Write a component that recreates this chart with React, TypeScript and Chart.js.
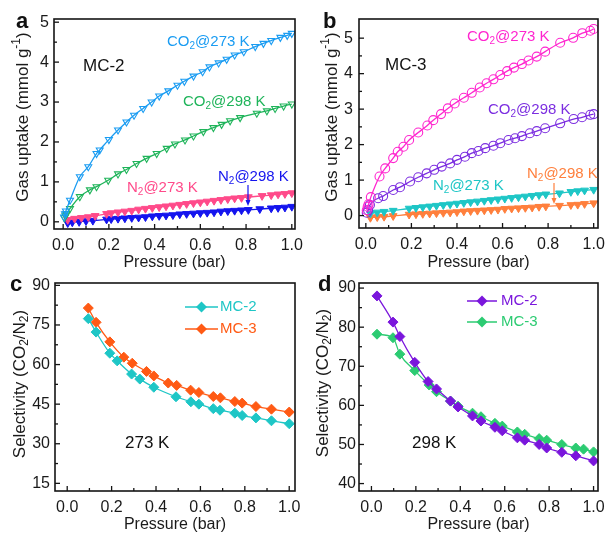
import React, { useEffect, useRef } from "react";
import { Chart, registerables } from "chart.js";
Chart.register(...registerables);

const FONT = "'Liberation Sans', Arial, Helvetica, sans-serif";

// ---------- tick labels ----------
const pressureTicks = [0, 0.2, 0.4, 0.6, 0.8, 1.0];
const uptakeTicksA = [0, 1, 2, 3, 4, 5];
const uptakeTicksB = [0, 1, 2, 3, 4, 5];
const selTicksC = [15, 30, 45, 60, 75, 90];
const selTicksD = [40, 50, 60, 70, 80, 90];

// ---------- panel a (MC-2 isotherms) ----------
const aCO2_273: number[][] = [[0.004,0.12],[0.008,0.2],[0.012,0.27],[0.03,0.54],[0.073,1.13],[0.11,1.38],[0.146,1.71],[0.16,1.8],[0.2,2.06],[0.24,2.3],[0.277,2.5],[0.31,2.67],[0.35,2.84],[0.387,3.0],[0.42,3.15],[0.46,3.28],[0.5,3.42],[0.53,3.52],[0.57,3.65],[0.61,3.76],[0.64,3.88],[0.68,3.98],[0.715,4.07],[0.75,4.18],[0.79,4.26],[0.84,4.39],[0.876,4.47],[0.91,4.54],[0.95,4.62],[0.98,4.67],[1.0,4.72]];
const aCO2_298: number[][] = [[0.005,0.1],[0.01,0.15],[0.015,0.2],[0.03,0.33],[0.073,0.63],[0.117,0.8],[0.146,0.88],[0.197,1.04],[0.24,1.2],[0.277,1.31],[0.321,1.46],[0.365,1.59],[0.409,1.71],[0.453,1.84],[0.489,1.95],[0.533,2.05],[0.57,2.15],[0.613,2.26],[0.657,2.36],[0.693,2.44],[0.73,2.53],[0.774,2.61],[0.847,2.72],[0.891,2.78],[0.927,2.84],[0.964,2.9],[1.0,2.95]];
const aN2_273: number[][] = [[0.02,0.05],[0.05,0.08],[0.08,0.1],[0.11,0.12],[0.14,0.15],[0.19,0.2],[0.21,0.22],[0.24,0.24],[0.27,0.26],[0.3,0.28],[0.33,0.31],[0.36,0.33],[0.39,0.35],[0.42,0.37],[0.45,0.39],[0.48,0.41],[0.51,0.43],[0.54,0.45],[0.57,0.47],[0.6,0.49],[0.63,0.51],[0.66,0.53],[0.69,0.55],[0.72,0.57],[0.75,0.59],[0.78,0.6],[0.81,0.62],[0.87,0.65],[0.91,0.67],[0.94,0.69],[0.97,0.7],[1.0,0.72]];
const aN2_298: number[][] = [[0.02,-0.03],[0.04,-0.01],[0.07,0.0],[0.1,0.02],[0.13,0.03],[0.19,0.06],[0.21,0.07],[0.24,0.08],[0.27,0.09],[0.3,0.1],[0.33,0.11],[0.36,0.12],[0.39,0.14],[0.42,0.15],[0.45,0.16],[0.48,0.17],[0.51,0.19],[0.54,0.2],[0.57,0.21],[0.6,0.22],[0.63,0.23],[0.66,0.24],[0.69,0.26],[0.72,0.27],[0.75,0.28],[0.78,0.29],[0.81,0.3],[0.86,0.32],[0.91,0.34],[0.94,0.35],[0.97,0.36],[1.0,0.38]];

// ---------- panel b (MC-3 isotherms) ----------
const bCO2_273: number[][] = [[0.004,0.15],[0.008,0.25],[0.012,0.32],[0.022,0.52],[0.06,1.1],[0.085,1.33],[0.12,1.62],[0.14,1.8],[0.165,1.94],[0.19,2.13],[0.23,2.34],[0.27,2.54],[0.296,2.69],[0.33,2.86],[0.36,3.02],[0.39,3.16],[0.43,3.32],[0.465,3.46],[0.5,3.61],[0.53,3.73],[0.56,3.84],[0.59,3.96],[0.62,4.07],[0.65,4.17],[0.685,4.27],[0.714,4.37],[0.75,4.48],[0.787,4.62],[0.853,4.87],[0.91,5.01],[0.95,5.14],[0.985,5.21],[1.0,5.26]];
const bCO2_298: number[][] = [[0.004,0.08],[0.01,0.15],[0.018,0.3],[0.054,0.49],[0.076,0.55],[0.12,0.72],[0.15,0.8],[0.194,0.96],[0.23,1.08],[0.267,1.19],[0.3,1.29],[0.333,1.38],[0.37,1.47],[0.4,1.57],[0.435,1.66],[0.465,1.76],[0.494,1.82],[0.524,1.9],[0.56,1.97],[0.59,2.04],[0.626,2.13],[0.655,2.18],[0.685,2.24],[0.72,2.32],[0.75,2.38],[0.787,2.46],[0.853,2.6],[0.912,2.72],[0.949,2.77],[0.985,2.84],[1.0,2.86]];
const bN2_273: number[][] = [[0.02,0.06],[0.05,0.09],[0.08,0.11],[0.12,0.14],[0.19,0.2],[0.22,0.22],[0.25,0.24],[0.28,0.26],[0.31,0.28],[0.34,0.3],[0.37,0.32],[0.4,0.34],[0.43,0.36],[0.46,0.38],[0.49,0.4],[0.52,0.42],[0.55,0.44],[0.58,0.46],[0.61,0.48],[0.64,0.5],[0.67,0.52],[0.7,0.54],[0.73,0.56],[0.76,0.58],[0.79,0.6],[0.85,0.63],[0.9,0.67],[0.93,0.69],[0.96,0.71],[1.0,0.73]];
const bN2_298: number[][] = [[0.02,-0.06],[0.05,-0.04],[0.08,-0.03],[0.12,-0.01],[0.19,0.03],[0.22,0.04],[0.25,0.05],[0.28,0.06],[0.31,0.07],[0.34,0.08],[0.37,0.09],[0.4,0.1],[0.43,0.12],[0.46,0.13],[0.49,0.14],[0.52,0.15],[0.55,0.16],[0.58,0.17],[0.61,0.19],[0.64,0.2],[0.67,0.21],[0.7,0.22],[0.73,0.23],[0.76,0.25],[0.79,0.26],[0.85,0.28],[0.9,0.3],[0.93,0.31],[0.96,0.33],[1.0,0.35]];

// ---------- panel c (selectivity 273 K) ----------
const cMC2: number[][] = [[0.095,77.4],[0.13,72.3],[0.192,64.3],[0.225,61.4],[0.29,56.4],[0.327,54.5],[0.39,51.4],[0.49,47.8],[0.557,45.9],[0.593,45.0],[0.658,43.3],[0.688,42.7],[0.755,41.6],[0.788,40.7],[0.85,39.8],[0.92,38.7],[1.0,37.6]];
const cMC3: number[][] = [[0.095,81.4],[0.13,76.0],[0.192,68.6],[0.255,62.8],[0.293,60.5],[0.357,57.4],[0.39,55.7],[0.455,53.0],[0.493,52.1],[0.556,50.3],[0.593,49.4],[0.658,47.9],[0.69,47.4],[0.755,46.0],[0.788,45.4],[0.85,44.1],[0.92,43.1],[1.0,42.0]];

// ---------- panel d (selectivity 298 K) ----------
const dMC2: number[][] = [[0.025,88.0],[0.097,81.3],[0.128,77.6],[0.195,71.0],[0.255,66.1],[0.293,64.2],[0.356,61.1],[0.39,59.6],[0.455,57.3],[0.493,56.0],[0.556,54.4],[0.589,53.5],[0.657,51.7],[0.69,51.1],[0.755,50.0],[0.789,49.1],[0.857,48.0],[0.92,47.1],[1.0,45.8]];
const dMC3: number[][] = [[0.025,78.2],[0.097,77.3],[0.128,73.1],[0.195,68.9],[0.26,65.2],[0.293,63.5],[0.356,61.1],[0.39,59.8],[0.455,58.0],[0.493,57.1],[0.556,55.4],[0.589,54.7],[0.657,53.2],[0.69,52.6],[0.755,51.5],[0.789,51.1],[0.857,50.0],[0.92,49.1],[0.955,48.8],[1.0,48.1]];

// ---------- rich text helper ----------
type Seg = { t: string; k: number };
function parseRich(s: string): Seg[] {
  const out: Seg[] = [];
  let buf = "";
  for (let i = 0; i < s.length; i++) {
    const c = s[i];
    if (c === "_" || c === "^") {
      if (buf) { out.push({ t: buf, k: 0 }); buf = ""; }
      let t = "";
      if (s[i + 1] === "{") { const j = s.indexOf("}", i + 2); t = s.slice(i + 2, j); i = j; }
      else { t = s[i + 1]; i++; }
      out.push({ t, k: c === "_" ? 1 : 2 });
    } else buf += c;
  }
  if (buf) out.push({ t: buf, k: 0 });
  return out;
}
function drawRich(ctx: CanvasRenderingContext2D, s: string, x: number, y: number, size: number, color: string, align: "left" | "center", weight = "normal") {
  const segs = parseRich(s);
  const fontFor = (k: number) => `${weight} ${k ? Math.round(size * 0.68) : size}px ${FONT}`;
  let w = 0;
  for (const sg of segs) { ctx.font = fontFor(sg.k); w += ctx.measureText(sg.t).width; }
  let cx = align === "center" ? x - w / 2 : x;
  ctx.fillStyle = color;
  ctx.textBaseline = "middle";
  ctx.textAlign = "left";
  for (const sg of segs) {
    ctx.font = fontFor(sg.k);
    const dy = sg.k === 1 ? size * 0.3 : sg.k === 2 ? -size * 0.35 : 0;
    ctx.fillText(sg.t, cx, y + dy);
    cx += ctx.measureText(sg.t).width;
  }
}

const mids = (arr: number[]) => arr.slice(1).map((v, i) => (v + arr[i]) / 2);

type Label = { text: string; x: number; y: number; color: string; size: number; weight?: string };
type Arrow = { x: number; y1: number; y2: number; color: string };
type LegendItem = { text: string; color: string; y: number };
type PanelCfg = {
  left: number; top: number; width: number; height: number;
  area: { l: number; r: number; t: number; b: number };
  xMin: number; xMax: number; yMin: number; yMax: number;
  yTicks: number[]; yDecimals: number; yPad: number;
  datasets: any[];
  yTitle: string; yTitleX: number; yTitleY: number; xTitleY: number;
  labels: Label[]; arrows: Arrow[];
  legend?: { items: LegendItem[]; x0: number; x1: number; tx: number };
};

function makeDecor(cfg: PanelCfg) {
  return {
    id: "decor",
    afterDraw(chart: any) {
      const ctx: CanvasRenderingContext2D = chart.ctx;
      const { left, right, top, bottom } = chart.chartArea;
      const xs = chart.scales.x, ys = chart.scales.y;
      ctx.save();
      ctx.strokeStyle = "#141414";
      ctx.lineWidth = 1.3;
      const seg = (x1: number, y1: number, x2: number, y2: number) => { ctx.beginPath(); ctx.moveTo(x1, y1); ctx.lineTo(x2, y2); ctx.stroke(); };
      for (const v of pressureTicks) { const p = xs.getPixelForValue(v); seg(p, bottom, p, bottom - 5); }
      for (const v of mids(pressureTicks)) { const p = xs.getPixelForValue(v); seg(p, bottom, p, bottom - 3); }
      for (const v of cfg.yTicks) { const p = ys.getPixelForValue(v); seg(left, p, left + 5, p); }
      for (const v of mids(cfg.yTicks)) { const p = ys.getPixelForValue(v); seg(left, p, left + 3, p); }
      ctx.lineWidth = 1.6;
      ctx.strokeRect(left, top, right - left, bottom - top);
      // titles
      drawRich(ctx, "Pressure (bar)", (left + right) / 2, cfg.xTitleY, 16, "#1a1a1a", "center");
      ctx.save();
      ctx.translate(cfg.yTitleX, cfg.yTitleY);
      ctx.rotate(-Math.PI / 2);
      drawRich(ctx, cfg.yTitle, 0, 0, 17, "#1a1a1a", "center");
      ctx.restore();
      for (const l of cfg.labels) drawRich(ctx, l.text, l.x, l.y, l.size, l.color, "left", l.weight || "normal");
      for (const a of cfg.arrows) {
        ctx.strokeStyle = a.color; ctx.fillStyle = a.color; ctx.lineWidth = 1.2;
        seg(a.x, a.y1, a.x, a.y2 - 4);
        ctx.beginPath(); ctx.moveTo(a.x - 2.5, a.y2 - 6); ctx.lineTo(a.x + 2.5, a.y2 - 6); ctx.lineTo(a.x, a.y2); ctx.closePath(); ctx.fill();
      }
      if (cfg.legend) {
        const lg = cfg.legend;
        for (const it of lg.items) {
          ctx.strokeStyle = it.color; ctx.fillStyle = it.color; ctx.lineWidth = 1.5;
          seg(lg.x0, it.y, lg.x1, it.y);
          const cx = (lg.x0 + lg.x1) / 2, r = 5.5;
          ctx.beginPath(); ctx.moveTo(cx, it.y - r); ctx.lineTo(cx + r, it.y); ctx.lineTo(cx, it.y + r); ctx.lineTo(cx - r, it.y); ctx.closePath(); ctx.fill();
          drawRich(ctx, it.text, lg.tx, it.y, 15, it.color, "left");
        }
      }
      ctx.restore();
    },
  };
}

function lineDs(data: number[][], color: string, style: string, filled: boolean, radius: number) {
  return {
    data: data.map(([x, y]) => ({ x, y })),
    borderColor: color,
    backgroundColor: filled ? color : "rgba(0,0,0,0)",
    pointBorderColor: color,
    pointBackgroundColor: filled ? color : "rgba(0,0,0,0)",
    pointStyle: style,
    pointRotation: style === "triangle" ? 180 : 0,
    pointRadius: radius,
    pointBorderWidth: filled ? 1 : 1.1,
    borderWidth: 1.3,
    tension: 0.4,
    cubicInterpolationMode: "monotone",
    showLine: true,
    fill: false,
  };
}

function Panel({ cfg }: { cfg: PanelCfg }) {
  const ref = useRef<HTMLCanvasElement>(null);
  useEffect(() => {
    if (!ref.current) return;
    const { area, width, height } = cfg;
    const yW = area.l, xH = height - area.b;
    const chart = new Chart(ref.current, {
      type: "line",
      data: { datasets: cfg.datasets },
      options: {
        responsive: false,
        animation: false,
        layout: { padding: { left: 0, bottom: 0, top: area.t, right: width - area.r } },
        plugins: { legend: { display: false }, tooltip: { enabled: false }, title: { display: false } },
        scales: {
          x: {
            type: "linear", min: cfg.xMin, max: cfg.xMax,
            grid: { display: false, drawTicks: false }, border: { display: false },
            ticks: { font: { family: FONT, size: 16 }, color: "#1a1a1a", padding: 7, maxRotation: 0, autoSkip: false, callback: (v: any) => Number(v).toFixed(1) },
            afterBuildTicks: (s: any) => { s.ticks = pressureTicks.map((v) => ({ value: v })); },
            afterFit: (s: any) => { s.height = xH; s.paddingLeft = 0; s.paddingRight = 0; },
          },
          y: {
            type: "linear", min: cfg.yMin, max: cfg.yMax,
            grid: { display: false, drawTicks: false }, border: { display: false },
            ticks: { font: { family: FONT, size: 16 }, color: "#1a1a1a", padding: cfg.yPad, autoSkip: false, callback: (v: any) => Number(v).toFixed(cfg.yDecimals) },
            afterBuildTicks: (s: any) => { s.ticks = cfg.yTicks.map((v) => ({ value: v })); },
            afterFit: (s: any) => { s.width = yW; s.paddingTop = 0; s.paddingBottom = 0; },
          },
        },
      } as any,
      plugins: [makeDecor(cfg)],
    });
    return () => chart.destroy();
  }, [cfg]);
  return (
    <canvas
      ref={ref}
      width={cfg.width}
      height={cfg.height}
      style={{ position: "absolute", left: cfg.left, top: cfg.top, width: cfg.width, height: cfg.height }}
    />
  );
}

const C_LBLUE = "#1a9cf2";
const C_GREEN = "#1fb45a";
const C_PINK = "#ff4a8a";
const C_BLUE = "#1414ee";
const C_MAG = "#ff26cf";
const C_PURP = "#7c2ee0";
const C_CYAN = "#1ec6c6";
const C_ORNG = "#ff7f3c";
const C_RED = "#ff5a14";
const C_PURP2 = "#7a16dc";
const C_GREEN2 = "#2ccb72";

const panelA: PanelCfg = {
  left: 0, top: 0, width: 303, height: 276,
  area: { l: 54, r: 295, t: 19, b: 229 },
  xMin: -0.04, xMax: 1.014, yMin: -0.18, yMax: 5.08, yTicks: uptakeTicksA, yDecimals: 0, yPad: 5,
  datasets: [
    lineDs(aCO2_273, C_LBLUE, "triangle", false, 4),
    lineDs(aCO2_298, C_GREEN, "triangle", false, 4),
    lineDs(aN2_273, C_PINK, "triangle", true, 4.5),
    lineDs(aN2_298, C_BLUE, "triangle", true, 4.5),
  ],
  yTitle: "Gas uptake (mmol g^{-1})", yTitleX: 23, yTitleY: 117, xTitleY: 263,
  labels: [
    { text: "a", x: 16, y: 22, color: "#111", size: 22, weight: "bold" },
    { text: "MC-2", x: 83, y: 66, color: "#111", size: 17 },
    { text: "CO_2@273 K", x: 167, y: 42, color: C_LBLUE, size: 15 },
    { text: "CO_2@298 K", x: 183, y: 102, color: C_GREEN, size: 15 },
    { text: "N_2@273 K", x: 127, y: 188, color: C_PINK, size: 15 },
    { text: "N_2@298 K", x: 218, y: 177, color: C_BLUE, size: 15 },
  ],
  arrows: [{ x: 248, y1: 185, y2: 206, color: C_BLUE }],
};

const panelB: PanelCfg = {
  left: 303, top: 0, width: 304, height: 276,
  area: { l: 56, r: 295, t: 19, b: 228 },
  xMin: -0.03, xMax: 1.019, yMin: -0.35, yMax: 5.54, yTicks: uptakeTicksB, yDecimals: 0, yPad: 6,
  datasets: [
    lineDs(bCO2_273, C_MAG, "circle", false, 4.5),
    lineDs(bCO2_298, C_PURP, "circle", false, 4.5),
    lineDs(bN2_273, C_CYAN, "triangle", true, 4.5),
    lineDs(bN2_298, C_ORNG, "triangle", true, 4.5),
  ],
  yTitle: "Gas uptake (mmol g^{-1})", yTitleX: 29, yTitleY: 117, xTitleY: 263,
  labels: [
    { text: "b", x: 20, y: 22, color: "#111", size: 22, weight: "bold" },
    { text: "MC-3", x: 82, y: 65, color: "#111", size: 17 },
    { text: "CO_2@273 K", x: 164, y: 37, color: C_MAG, size: 15 },
    { text: "CO_2@298 K", x: 185, y: 110, color: C_PURP, size: 15 },
    { text: "N_2@273 K", x: 130, y: 186, color: C_CYAN, size: 15 },
    { text: "N_2@298 K", x: 224, y: 174, color: C_ORNG, size: 15 },
  ],
  arrows: [{ x: 251, y1: 183, y2: 204, color: C_ORNG }],
};

const panelC: PanelCfg = {
  left: 0, top: 268, width: 303, height: 265,
  area: { l: 55, r: 295, t: 15, b: 223 },
  xMin: -0.055, xMax: 1.026, yMin: 12.1, yMax: 90.9, yTicks: selTicksC, yDecimals: 0, yPad: 5,
  datasets: [
    lineDs(cMC2, C_CYAN, "rectRot", true, 5),
    lineDs(cMC3, C_RED, "rectRot", true, 5),
  ],
  yTitle: "Selectivity (CO_2/N_2)", yTitleX: 20, yTitleY: 116, xTitleY: 257,
  labels: [
    { text: "c", x: 10, y: 17, color: "#111", size: 22, weight: "bold" },
    { text: "273 K", x: 125, y: 175, color: "#111", size: 17 },
  ],
  arrows: [],
  legend: { items: [{ text: "MC-2", color: C_CYAN, y: 39 }, { text: "MC-3", color: C_RED, y: 61 }], x0: 185, x1: 218, tx: 220 },
};

const panelD: PanelCfg = {
  left: 303, top: 268, width: 304, height: 265,
  area: { l: 56, r: 295, t: 15, b: 223 },
  xMin: -0.056, xMax: 1.02, yMin: 38.1, yMax: 91.3, yTicks: selTicksD, yDecimals: 0, yPad: 3,
  datasets: [
    lineDs(dMC2, C_PURP2, "rectRot", true, 5),
    lineDs(dMC3, C_GREEN2, "rectRot", true, 5),
  ],
  yTitle: "Selectivity (CO_2/N_2)", yTitleX: 20, yTitleY: 115, xTitleY: 257,
  labels: [
    { text: "d", x: 15, y: 17, color: "#111", size: 22, weight: "bold" },
    { text: "298 K", x: 109, y: 175, color: "#111", size: 17 },
  ],
  arrows: [],
  legend: { items: [{ text: "MC-2", color: C_PURP2, y: 33 }, { text: "MC-3", color: C_GREEN2, y: 54 }], x0: 164, x1: 194, tx: 198 },
};

export default function App() {
  return (
    <div style={{ position: "absolute", left: 0, top: 0, width: 607, height: 533, background: "#fff" }}>
      <Panel cfg={panelA} />
      <Panel cfg={panelB} />
      <Panel cfg={panelC} />
      <Panel cfg={panelD} />
    </div>
  );
}
